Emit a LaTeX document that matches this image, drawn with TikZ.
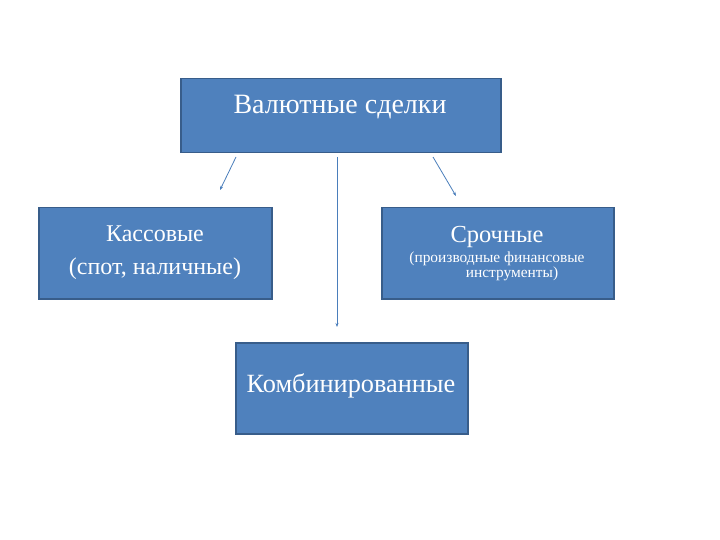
\documentclass[tikz,border=0pt]{standalone}
\usepackage{fontspec}
\setmainfont{Liberation Serif}
\usetikzlibrary{arrows.meta}
\definecolor{boxfill}{HTML}{4F81BD}
\definecolor{boxline}{HTML}{385D8A}
\definecolor{arrowc}{HTML}{4A7EBB}
\begin{document}
\begin{tikzpicture}[x=1pt,y=-1pt,
  box/.style={draw=boxline,line width=1.5pt,fill=boxfill,text=white,inner sep=0pt,align=center},
  lbl/.style={text=white,inner sep=0pt,align=center},
  conn/.style={draw=arrowc,line width=0.8pt,-{Stealth[length=4pt,width=3pt]}}]
\useasboundingbox (0,0) rectangle (720,540);
\node[box,minimum width=320,minimum height=74,anchor=north west] (top) at (180,78) {};
\node[lbl,font=\fontsize{28}{32}\selectfont] (toptext) at (340,107) {Валютные сделки};
\node[box,minimum width=233,minimum height=91,anchor=north west] (kass) at (38,207) {};
\node[lbl,font=\fontsize{24}{33}\selectfont] (kasst) at (155,253) {Кассовые\\(спот, наличные)};
\node[box,minimum width=232,minimum height=91,anchor=north west] (sroch) at (381,207) {};
\node[lbl,font=\fontsize{24.5}{28}\selectfont] (srocht) at (497,237) {Срочные};
\node[lbl,font=\fontsize{15.4}{12.5}\selectfont] (srochs) at (497,266) {(производные финансовые\\\hspace*{30pt}инструменты)};
\node[box,minimum width=232,minimum height=91,anchor=north west] (komb) at (235,342) {};
\node[lbl,font=\fontsize{26.3}{30}\selectfont] (kombt) at (351,386) {Комбинированные};
\coordinate (a1) at (236,157); \coordinate (b1) at (220,190);
\coordinate (a2) at (337,157); \coordinate (b2) at (337,327);
\coordinate (a3) at (433,157); \coordinate (b3) at (456,196);
\draw[conn] (a1) -- (b1);
\draw[conn] (a2) -- (b2);
\draw[conn] (a3) -- (b3);
\end{tikzpicture}
\end{document}
